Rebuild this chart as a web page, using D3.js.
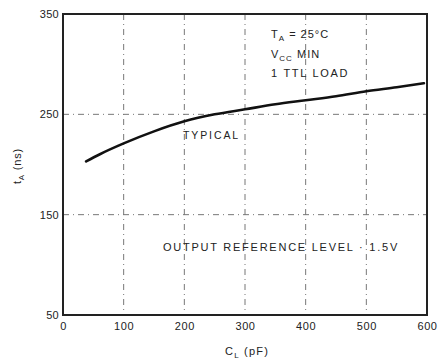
<!DOCTYPE html>
<html><head><meta charset="utf-8">
<script src="https://cdn.jsdelivr.net/npm/d3@7"></script>
<style>body{margin:0;background:#fff}svg{display:block}text{font-family:"Liberation Sans",Arial,sans-serif;fill:#222}</style>
</head><body>
<svg id="c" width="438" height="363"></svg>
<script>
const xTicks = [0,100,200,300,400,500,600];
const yTicks = [50,150,250,350];
const loadPF = [38,60,100,150,200,250,300,350,400,450,500,550,595];
const accessNs = [203,210,221,233,243,250,255,260,264,268,273,277,281];

const svg = d3.select("#c");
const x = d3.scaleLinear().domain([0,600]).range([63,427]);
const y = d3.scaleLinear().domain([50,350]).range([315,14]);

// grid
const g = svg.append("g");
g.selectAll(".vg").data(xTicks.slice(1,-1)).join("line")
  .attr("x1",d=>x(d)).attr("x2",d=>x(d)).attr("y1",y(350)).attr("y2",y(50))
  .attr("stroke","#777").attr("stroke-width",1).attr("stroke-dasharray","6,4,1,4");
g.selectAll(".hg").data(yTicks.slice(1,-1)).join("line")
  .attr("y1",d=>y(d)).attr("y2",d=>y(d)).attr("x1",x(0)).attr("x2",x(600))
  .attr("stroke","#777").attr("stroke-width",1).attr("stroke-dasharray","6,4,1,4");

// frame
svg.append("rect").attr("x",x(0)).attr("y",y(350)).attr("width",x(600)-x(0)).attr("height",y(50)-y(350))
  .attr("fill","none").attr("stroke","#222").attr("stroke-width",2);

// axes labels
const xa = d3.axisBottom(x).tickValues(xTicks).tickSize(0).tickPadding(7);
const xg = svg.append("g").attr("transform",`translate(0,${y(50)})`).call(xa);
xg.select(".domain").remove();
xg.selectAll("text").style("font-size","11px").style("letter-spacing","0.6px").style("fill","#222");
const ya = d3.axisLeft(y).tickValues(yTicks).tickSize(0).tickPadding(4);
const yg = svg.append("g").attr("transform",`translate(${x(0)},0)`).call(ya);
yg.select(".domain").remove();
yg.selectAll("text").style("font-size","11px").style("letter-spacing","0.3px").style("fill","#222");

// curve
const line = d3.line().x((d,i)=>x(loadPF[i])).y(d=>y(d)).curve(d3.curveMonotoneX);
svg.append("path").datum(accessNs).attr("d",line).attr("fill","none")
  .attr("stroke","#111").attr("stroke-width",2.6).attr("stroke-linecap","round");

// annotations
const t = (xx,yy,s,fs)=>svg.append("text").attr("x",xx).attr("y",yy).style("font-size",(fs||10)+"px").text(s);
t(183,139,"TYPICAL",10.5).style("letter-spacing","1.9px");
const a1 = svg.append("text").attr("x",271).attr("y",38).style("font-size","11px").style("letter-spacing","1px");
a1.append("tspan").text("T");
a1.append("tspan").attr("dy",3).style("font-size","8px").text("A");
a1.append("tspan").attr("dy",-3).text(" = 25°C");
const a2 = svg.append("text").attr("x",271).attr("y",58).style("font-size","11px").style("letter-spacing","1px");
a2.append("tspan").text("V");
a2.append("tspan").attr("dy",3).style("font-size","8px").text("CC");
a2.append("tspan").attr("dy",-3).text("  MIN");
t(271,77,"1 TTL LOAD",11).style("letter-spacing","1.7px");
t(163,251,"OUTPUT REFERENCE LEVEL · 1.5V",11).style("letter-spacing","1.75px");

// axis titles
const xt = svg.append("text").attr("x",225).attr("y",355).style("font-size","11px").style("letter-spacing","1.2px");
xt.append("tspan").text("C");
xt.append("tspan").attr("dy",3).style("font-size","8px").text("L");
xt.append("tspan").attr("dy",-3).text("  (pF)");
const yt = svg.append("text").attr("transform","translate(21,184) rotate(-90)").style("font-size","11px").style("letter-spacing","0.8px");
yt.append("tspan").text("t");
yt.append("tspan").attr("dy",3).style("font-size","8px").text("A");
yt.append("tspan").attr("dy",-3).text("  (ns)");
</script>
</body></html>
